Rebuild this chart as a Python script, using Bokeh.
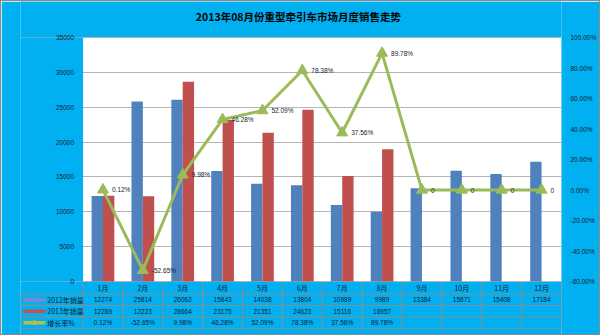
from bokeh.plotting import figure
from bokeh.models import (Range1d, LinearAxis, PrintfTickFormatter, SingleIntervalTicker,
                          ColumnDataSource, BoxAnnotation)
from bokeh.transform import dodge
from bokeh.layouts import column
from bokeh.core.properties import value
from bokeh.embed import file_html
from bokeh.resources import INLINE

# ---------------- data ----------------
months = ["1月", "2月", "3月", "4月", "5月", "6月", "7月", "8月", "9月", "10月", "11月", "12月"]
sales_2012 = [12274, 25814, 26062, 15843, 14038, 13804, 10989, 9989, 13384, 15871, 15408, 17184]
sales_2013 = [12289, 12223, 28664, 23175, 21351, 24623, 15116, 18957]
growth = [0.12, -52.65, 9.98, 46.28, 52.09, 78.38, 37.56, 89.78, 0, 0, 0, 0]
growth_labels = ["0.12%", "-52.65%", "9.98%", "46.28%", "52.09%", "78.38%", "37.56%", "89.78%",
                 "0", "0", "0", "0"]
table_growth = ["0.12%", "-52.65%", "9.98%", "46.28%", "52.09%", "78.38%", "37.56%", "89.78%",
                "", "", "", ""]
series_names = ["2012年销量", "2013年销量", "增长率%"]
title_text = "2013年08月份重型牵引车市场月度销售走势"

# ---------------- style / layout ----------------
BG = "#00B0F0"
BLUE = "#4F81BD"
RED = "#C0504D"
GREEN = "#9BBB59"
GRID = "#b4b4b4"
TLINE = "#8c8c8c"
TXT = "#1a1a2e"
ASCII_FONT = "Liberation Sans"
CJK_FONT = "Noto Sans CJK SC"

W, H = 598, 333
CL, CR, CT, CB = 82, 564, 36, 280   # plot-area edges, canvas px
TL = 19                             # table left edge, canvas px
TTOP = 281                          # table top, canvas px
rowh = 11.5
TITLE_CX, TITLE_CY = 299, 15

n = len(months)
colw = (CR - CL) / n
x_left = -(CL - TL) / colw
x_right = n + (W - CR) / colw * 0  # frame ends at plot-area right edge
ymax, pmin, pmax = 35000, -60, 100
chart_h = CB - CT


def lin_range(v_bottom, v_top):
    """range over the full frame height, given values at plot-area bottom/top"""
    per_px = (v_top - v_bottom) / chart_h
    return Range1d(v_bottom - (H - CB) * per_px, v_top + CT * per_px)


pos = [i + 0.5 for i in range(n)]

p = figure(width=W, height=H, x_range=Range1d(x_left, n), y_range=lin_range(0, ymax),
           output_backend="svg", toolbar_location=None,
           min_border_left=TL, min_border_right=W - CR, min_border_top=0,
           min_border_bottom=0)
p.background_fill_color = BG
p.border_fill_color = BG
p.outline_line_color = None

# white plot area under everything
p.add_layout(BoxAnnotation(left=0, right=n, bottom=0, top=ymax, fill_color="white",
                           fill_alpha=1, line_color=None, level="image"))

p.xaxis.visible = False
p.xgrid.grid_line_color = None
p.ygrid.grid_line_color = GRID
p.ygrid.ticker = SingleIntervalTicker(interval=5000)
p.ygrid.bounds = (0, ymax)
p.add_layout(BoxAnnotation(right=0, bottom=0, top=ymax, fill_color=BG, fill_alpha=1,
                           line_color=None, level="underlay"))

ly = p.yaxis[0]
ly.ticker = SingleIntervalTicker(interval=5000)
ly.bounds = (0, ymax)
ly.fixed_location = 0
ly.axis_line_color = None
ly.major_tick_line_color = None
ly.minor_tick_line_color = None
ly.major_label_text_font = ASCII_FONT
ly.major_label_text_font_size = "6.5px"
ly.major_label_text_color = TXT
ly.major_label_standoff = 3

# table units: y = -(canvas_y - TTOP) / rowh
p.extra_y_ranges = {
    "pct": lin_range(pmin, pmax),
    "tbl": Range1d(-(H - TTOP) / rowh, TTOP / rowh),
}
ry = LinearAxis(y_range_name="pct", ticker=SingleIntervalTicker(interval=20),
                formatter=PrintfTickFormatter(format="%.2f%%"), bounds=(pmin, pmax))
ry.axis_line_color = None
ry.major_tick_line_color = None
ry.minor_tick_line_color = None
ry.major_label_text_font = ASCII_FONT
ry.major_label_text_font_size = "6.5px"
ry.major_label_text_color = TXT
ry.major_label_standoff = 3
p.add_layout(ry, "right")

# title
p.text(x=[x_left + (TITLE_CX - TL) / colw], y=[-(TITLE_CY - TTOP) / rowh], text=[title_text],
       y_range_name="tbl", text_align="center", text_baseline="middle",
       text_font=value(CJK_FONT), text_font_size="10.5px", text_font_style="bold",
       text_color="black")

src12 = ColumnDataSource(dict(x=pos, v=sales_2012))
src13 = ColumnDataSource(dict(x=pos[:len(sales_2013)], v=sales_2013))
srcg = ColumnDataSource(dict(x=pos, g=growth, lab=growth_labels))

bw = 0.285
p.vbar(x=dodge("x", -bw / 2), top="v", width=bw, source=src12,
       fill_color=BLUE, line_color=None)
p.vbar(x=dodge("x", bw / 2), top="v", width=bw, source=src13,
       fill_color=RED, line_color=None)
p.line(x="x", y="g", source=srcg, y_range_name="pct", line_color=GREEN, line_width=3)
p.scatter(x="x", y="g", source=srcg, y_range_name="pct", marker="triangle",
          size=11, fill_color=GREEN, line_color=GREEN)
p.text(x="x", y="g", text="lab", source=srcg, y_range_name="pct", x_offset=9,
       text_baseline="middle", text_align="left", text_font=value(ASCII_FONT),
       text_font_size="6.5px", text_color=TXT)

# ---------------- data table (below the plot area) ----------------
hy = [-1, -2, -3, -4]
p.segment(x0=[x_left] * 4, x1=[n] * 4, y0=hy, y1=hy, y_range_name="tbl",
          line_color=TLINE, line_width=1)
vx = list(range(n + 1))
p.segment(x0=vx, x1=vx, y0=[0] * (n + 1), y1=[-4] * (n + 1), y_range_name="tbl",
          line_color=TLINE, line_width=1)
p.segment(x0=[x_left + 0.01], x1=[x_left + 0.01], y0=[-1], y1=[-4], y_range_name="tbl",
          line_color=TLINE, line_width=1)

p.text(x=pos, y=[-0.5] * n, text=months, y_range_name="tbl", text_align="center",
       text_baseline="middle", text_font=value(CJK_FONT), text_font_size="7px",
       text_color=TXT)
p.text(x=pos, y=[-1.5] * n, text=[str(v) for v in sales_2012], y_range_name="tbl",
       text_align="center", text_baseline="middle", text_font=value(ASCII_FONT),
       text_font_size="6.5px", text_color=TXT)
p.text(x=pos[:len(sales_2013)], y=[-2.5] * len(sales_2013), text=[str(v) for v in sales_2013],
       y_range_name="tbl", text_align="center", text_baseline="middle",
       text_font=value(ASCII_FONT), text_font_size="6.5px", text_color=TXT)
p.text(x=pos, y=[-3.5] * n, text=table_growth, y_range_name="tbl", text_align="center",
       text_baseline="middle", text_font=value(ASCII_FONT), text_font_size="6.5px",
       text_color=TXT)

# legend keys in the first column
kx0 = x_left + 3 / colw
kx1 = x_left + 25 / colw
ktx = x_left + 27 / colw
key_colors = ["#8585C8", "#D24B4B", "#B9BE3C"]
ky = [-1.5, -2.5, -3.5]
p.segment(x0=[kx0] * 3, x1=[kx1] * 3, y0=ky, y1=ky, y_range_name="tbl",
          line_color=key_colors, line_width=3.5)
p.text(x=[ktx] * 3, y=ky, text=series_names, y_range_name="tbl", text_align="left",
       text_baseline="middle", text_font=value(CJK_FONT), text_font_size="7px",
       text_color=TXT)
p.scatter(x=[(kx0 + kx1) / 2], y=[-3.5], y_range_name="tbl", marker="triangle", size=5,
          fill_color=key_colors[2], line_color=key_colors[2])

layout = column(p, spacing=0, styles={"border": "1px solid #8a8a8a"})
open("out.html", "w").write(file_html(layout, INLINE))
